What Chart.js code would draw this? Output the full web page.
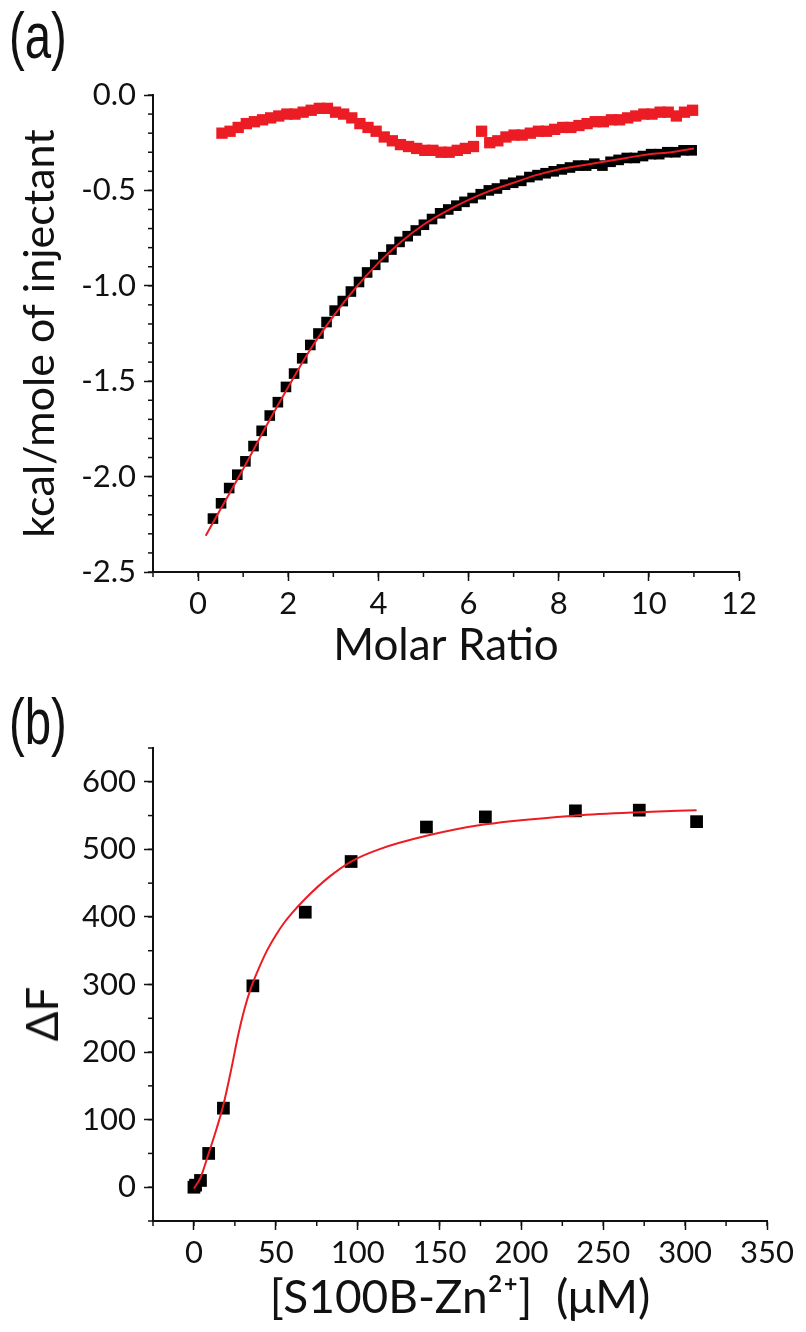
<!DOCTYPE html>
<html><head><meta charset="utf-8">
<script src="https://cdn.jsdelivr.net/npm/chart.js@4.4.1/dist/chart.umd.min.js"></script>
<style>
html,body{margin:0;padding:0;background:#fff;}
body{width:806px;height:1332px;position:relative;overflow:hidden;}
#wa{position:absolute;left:0;top:0;width:806px;height:680px;}
#wb{position:absolute;left:0;top:680px;width:806px;height:652px;}
.lbl{position:absolute;font-family:"Liberation Sans",Arial,sans-serif;font-size:64px;line-height:1;color:#111;transform:scaleX(0.74);transform-origin:0 0;}
.ytl{position:absolute;font-family:Lato,"Open Sans",sans-serif;font-size:44px;line-height:1;color:#111;white-space:nowrap;transform:translate(-50%,-50%) rotate(-90deg);}
</style></head><body>
<div id="wa"><canvas id="ca"></canvas></div>
<div id="wb"><canvas id="cb"></canvas></div>
<div class="lbl" style="left:9px;top:4px">(a)</div>
<div class="lbl" style="left:9px;top:690px">(b)</div>
<div class="ytl" id="dF" style="left:41px;top:1014px"></div>
<script>
// ---------- Panel (a): ITC ----------
const itcX = [0.33,0.51,0.69,0.87,1.05,1.23,1.41,1.59,1.77,1.95,2.13,2.31,2.49,2.67,2.85,3.03,3.21,3.39,3.57,3.75,3.93,4.11,4.29,4.47,4.65,4.83,5.01,5.19,5.37,5.55,5.73,5.91,6.09,6.27,6.45,6.63,6.81,6.99,7.17,7.35,7.53,7.71,7.89,8.07,8.25,8.43,8.61,8.79,8.97,9.15,9.33,9.51,9.69,9.87,10.05,10.23,10.41,10.59,10.77,10.95];
const itcY = [-2.22,-2.14,-2.06,-1.99,-1.92,-1.84,-1.76,-1.68,-1.61,-1.53,-1.46,-1.38,-1.31,-1.25,-1.19,-1.13,-1.08,-1.03,-0.98,-0.93,-0.89,-0.85,-0.81,-0.77,-0.74,-0.71,-0.68,-0.65,-0.62,-0.60,-0.58,-0.56,-0.54,-0.52,-0.50,-0.49,-0.47,-0.46,-0.45,-0.43,-0.42,-0.41,-0.40,-0.39,-0.38,-0.37,-0.37,-0.36,-0.37,-0.35,-0.34,-0.33,-0.33,-0.32,-0.31,-0.31,-0.30,-0.30,-0.29,-0.29];
const ctrlX = [0.53,0.71,0.89,1.07,1.25,1.43,1.61,1.79,1.97,2.15,2.33,2.51,2.69,2.87,3.05,3.23,3.41,3.59,3.77,3.95,4.13,4.31,4.49,4.67,4.85,5.03,5.21,5.39,5.57,5.75,5.93,6.11,6.29,6.47,6.65,6.83,7.01,7.19,7.37,7.55,7.73,7.91,8.09,8.27,8.45,8.63,8.81,8.99,9.17,9.35,9.53,9.71,9.89,10.07,10.25,10.43,10.61,10.79,10.97];
const ctrlY = [-0.20,-0.19,-0.17,-0.15,-0.14,-0.13,-0.12,-0.11,-0.10,-0.10,-0.09,-0.08,-0.07,-0.07,-0.09,-0.10,-0.12,-0.15,-0.17,-0.19,-0.22,-0.24,-0.26,-0.27,-0.28,-0.29,-0.29,-0.30,-0.30,-0.29,-0.28,-0.27,-0.19,-0.25,-0.24,-0.22,-0.21,-0.21,-0.20,-0.19,-0.19,-0.18,-0.17,-0.17,-0.16,-0.15,-0.14,-0.14,-0.13,-0.13,-0.12,-0.11,-0.10,-0.10,-0.09,-0.09,-0.11,-0.09,-0.08];
const fitAX = [0.17,0.5,1,1.5,2,2.5,3,3.5,4,4.5,5,5.5,6,6.5,7,7.5,8,8.5,9,9.5,10,10.5,11];
const fitAY = [-2.31,-2.17,-1.96,-1.74,-1.53,-1.33,-1.16,-1.01,-0.88,-0.77,-0.68,-0.61,-0.55,-0.50,-0.46,-0.42,-0.39,-0.37,-0.35,-0.33,-0.31,-0.30,-0.28];
const aXTicks = [0,2,4,6,8,10,12];
const aYTicks = [-2.5,-2.0,-1.5,-1.0,-0.5,0.0];
const aXTitle = 'Molar Ratio';
const aYTitle = 'kcal/mole of injectant';

// ---------- Panel (b): fluorescence titration ----------
const flX = [0,1,4,9,18,36,68,96,142,178,233,272,307];
const flY = [0,3,10,50,117,298,407,482,533,548,557,558,541];
const fitBX = [0,4,9,14,18,23,27,31,35,40,45,50,55,60,68,83,96,113,142,178,233,272,307];
const fitBY = [-2,14,50,88,122,177,225,265,296,326,352,373,391,406,427,460,482,500,520,537,550,555,558];
const bXTicks = [0,50,100,150,200,250,300,350];
const bYTicks = [0,100,200,300,400,500,600];
const bXTitle = '[S100B-Zn\u00B2\u207A]  (\u03BCM)';
const bYTitle = '\u0394F';

document.getElementById('dF').textContent = bYTitle;

const RED = '#ec1c24';
const INK = '#111111';
const FONT = "Lato, 'Open Sans', sans-serif";
const pts = (xs, ys) => xs.map((x, i) => ({x, y: ys[i]}));
const useTicks = arr => s => { s.ticks = arr.map(v => ({value: v})); };

const minorTicks = {
  id: 'minorTicks',
  afterDraw(chart, args, opts) {
    const ctx = chart.ctx, area = chart.chartArea;
    ctx.save();
    ctx.strokeStyle = INK; ctx.lineWidth = 1.5;
    for (const id of Object.keys(opts.axes || {})) {
      const s = chart.scales[id], step = opts.axes[id];
      const n = Math.round((s.max - s.min) / step);
      for (let i = 0; i <= n; i++) {
        const p = s.getPixelForValue(s.min + i * step);
        ctx.beginPath();
        if (s.isHorizontal()) { ctx.moveTo(p, area.bottom); ctx.lineTo(p, area.bottom + opts.len); }
        else { ctx.moveTo(area.left - opts.len, p); ctx.lineTo(area.left, p); }
        ctx.stroke();
      }
    }
    ctx.restore();
  }
};

function axis(opts) {
  return Object.assign({
    type: 'linear',
    border: {display: true, color: INK, width: 2},
    grid: {display: true, drawOnChartArea: false, drawTicks: true, tickLength: 9, tickColor: INK, tickWidth: 1.5},
  }, opts);
}

function makeChart(id, cfg) {
  return new Chart(document.getElementById(id), {
    type: 'scatter',
    data: {datasets: cfg.datasets},
    options: {
      responsive: true, maintainAspectRatio: false, animation: false, devicePixelRatio: 1,
      layout: {padding: cfg.padding},
      plugins: {legend: {display: false}, tooltip: {enabled: false}, minorTicks: cfg.minor},
      scales: cfg.scales
    },
    plugins: [minorTicks]
  });
}

makeChart('ca', {
  padding: {top: 95, right: 67, left: 0, bottom: 0},
  minor: {len: 5, axes: {x: 1, y: 0.1}},
  datasets: [
    {data: pts(fitAX, fitAY), showLine: true, borderColor: RED, borderWidth: 2, pointRadius: 0, cubicInterpolationMode: 'monotone'},
    {data: pts(ctrlX, ctrlY), pointStyle: 'rect', pointRadius: 8, backgroundColor: RED, borderColor: RED, borderWidth: 0},
    {data: pts(itcX, itcY), pointStyle: 'rect', pointRadius: 7.5, backgroundColor: '#000', borderColor: '#000', borderWidth: 0}
  ],
  scales: {
    x: axis({min: -1, max: 12,
      ticks: {color: INK, font: {family: FONT, size: 31}, padding: 4},
      afterBuildTicks: useTicks(aXTicks),
      afterFit: s => { s.height = 108; },
      title: {display: true, text: aXTitle, color: INK, font: {family: FONT, size: 44}, padding: {top: 0, bottom: 8}}
    }),
    y: axis({min: -2.5, max: 0,
      ticks: {color: INK, font: {family: FONT, size: 31}, padding: 8, callback: v => v.toFixed(1)},
      afterBuildTicks: useTicks(aYTicks),
      afterFit: s => { s.width = 153; },
      title: {display: true, text: aYTitle, color: INK, font: {family: FONT, size: 43}, padding: {top: 14, bottom: 0}}
    })
  }
});

makeChart('cb', {
  padding: {top: 68, right: 39, left: 0, bottom: 0},
  minor: {len: 5, axes: {x: 25, y: 50}},
  datasets: [
    {data: pts(fitBX, fitBY), showLine: true, borderColor: RED, borderWidth: 2, pointRadius: 0, cubicInterpolationMode: 'monotone'},
    {data: pts(flX, flY), pointStyle: 'rect', pointRadius: 9, backgroundColor: '#000', borderColor: '#000', borderWidth: 0}
  ],
  scales: {
    x: axis({min: -25, max: 350,
      ticks: {color: INK, font: {family: FONT, size: 31}, padding: 4},
      afterBuildTicks: useTicks(bXTicks),
      afterFit: s => { s.height = 111; },
      title: {display: true, text: bXTitle, color: INK, font: {family: FONT, size: 46}, padding: {top: 0, bottom: 6}}
    }),
    y: axis({min: -50, max: 650,
      ticks: {color: INK, font: {family: FONT, size: 31}, padding: 8},
      afterBuildTicks: useTicks(bYTicks),
      afterFit: s => { s.width = 153; },
      title: {display: false}
    })
  }
});
</script>
</body></html>
